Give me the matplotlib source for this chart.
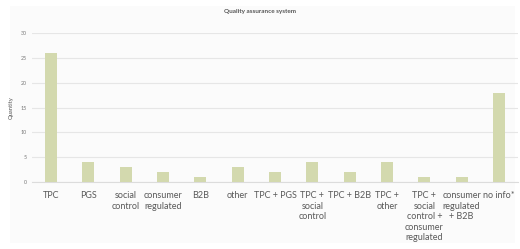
import matplotlib
matplotlib.use("Agg")
import matplotlib.pyplot as plt
import numpy as np

categories = [
    "TPC", "PGS", "social\ncontrol", "consumer\nregulated", "B2B", "other",
    "TPC + PGS", "TPC +\nsocial\ncontrol", "TPC + B2B", "TPC +\nother",
    "TPC +\nsocial\ncontrol +\nconsumer\nregulated", "consumer\nregulated\n+ B2B",
    "no info*",
]
quantities = [26, 4, 3, 2, 1, 3, 2, 4, 2, 4, 1, 1, 18]
yticks = [0, 5, 10, 15, 20, 25, 30]

plt.rcParams["font.family"] = ["Lato", "DejaVu Sans"]

fig = plt.figure(figsize=(5.2, 2.49), dpi=100)
fig.patch.set_facecolor("white")

# faint chart-area panel behind everything
panel = plt.Rectangle((10 / 520, 6 / 249), 505 / 520, 237 / 249,
                      transform=fig.transFigure, facecolor="#fbfbfb",
                      edgecolor="none", zorder=-10)
fig.patches.append(panel)

ax = fig.add_axes([32.3 / 520, 1 - 182 / 249, 485.3 / 520, 149 / 249])
ax.set_facecolor("none")

x = np.arange(len(categories))
ax.bar(x, quantities, width=0.32, color="#d3d9ae", zorder=3)

ax.set_xlim(-0.5, len(categories) - 0.5)
ax.set_ylim(0, 30)
ax.set_yticks(yticks)
ax.tick_params(axis="y", length=0, labelsize=3.8, labelcolor="#777777", pad=4)
ax.grid(axis="y", color="#e6e6e6", linewidth=0.8, zorder=0)

ax.set_xticks(x, labels=categories)
ax.tick_params(axis="x", length=0, labelsize=6.5, labelcolor="#595959", pad=6.5)
for t in ax.get_xticklabels():
    t.set_linespacing(1.22)

for side in ("top", "right", "left"):
    ax.spines[side].set_visible(False)
ax.spines["bottom"].set_color("#dcdcdc")
ax.spines["bottom"].set_linewidth(0.8)

ax.set_ylabel("Quantity", fontsize=4.2, color="#555555", labelpad=5)
fig.text(0.5, 1 - 11 / 249, "Quality assurance system", ha="center", va="center",
         fontsize=4.6, fontweight="bold", color="#555555")

fig.savefig("out.png", dpi=100)
